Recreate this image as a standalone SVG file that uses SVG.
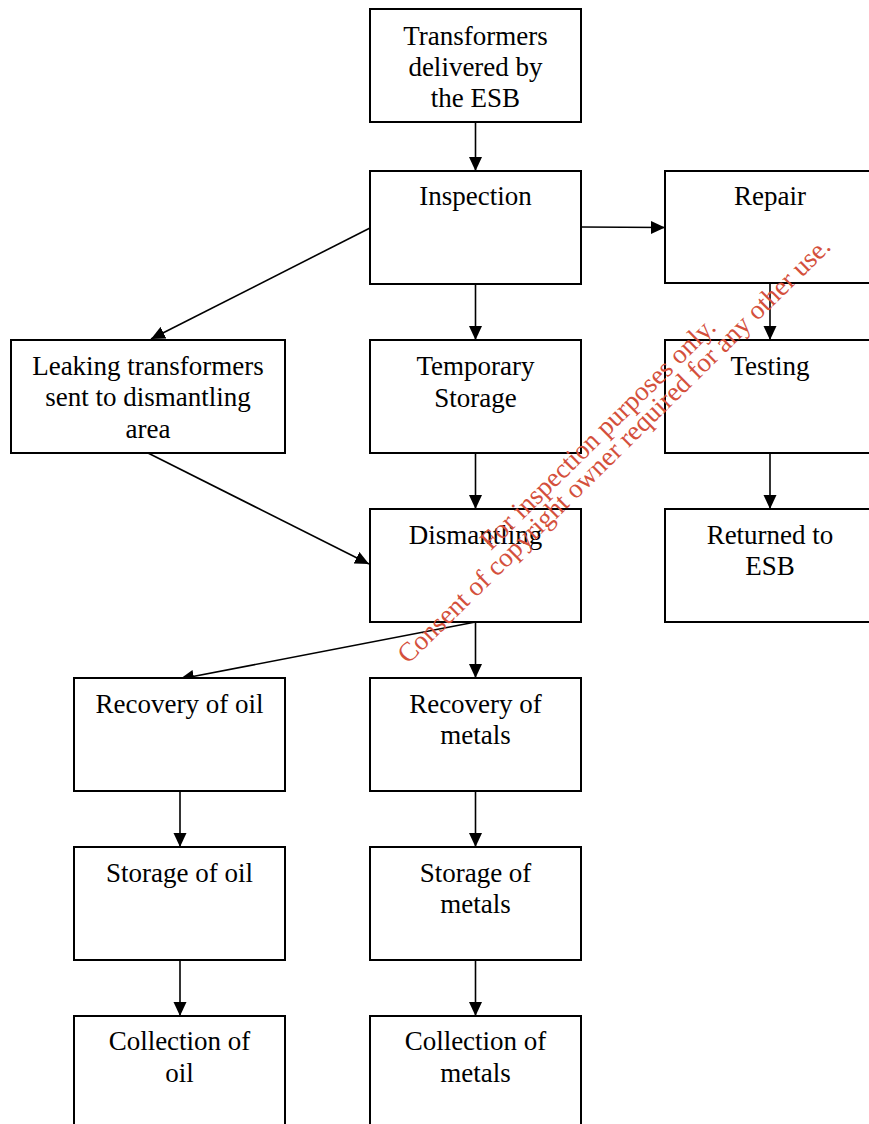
<svg xmlns="http://www.w3.org/2000/svg" width="869" height="1124" viewBox="0 0 869 1124">
<style>
.box{fill:#fff;stroke:#000;stroke-width:2}
.t{font-family:"Liberation Serif","Times New Roman",serif;font-size:27px;fill:#000;text-anchor:middle}
.c{stroke:#000;stroke-width:1.6;fill:none;marker-end:url(#ah)}
.wm{font-family:"Liberation Serif","Times New Roman",serif;font-size:27px;fill:#d4503c;text-anchor:middle}
</style>
<defs>
<marker id="ah" markerUnits="userSpaceOnUse" markerWidth="15" markerHeight="14" refX="14" refY="7" orient="auto">
<path d="M0,0.5 L14,7 L0,13.5 z" fill="#000"/>
</marker>
</defs>
<rect width="869" height="1124" fill="#fff"/>
<g id="connectors">
<line class="c" x1="475.5" y1="122" x2="475.5" y2="171"/>
<line class="c" x1="581" y1="227" x2="665" y2="227.5"/>
<line class="c" x1="370" y1="228" x2="151" y2="339"/>
<line class="c" x1="475.5" y1="284" x2="475.5" y2="340"/>
<line class="c" x1="770" y1="283" x2="770" y2="340"/>
<line class="c" x1="148" y1="453" x2="369" y2="564"/>
<line class="c" x1="475.5" y1="453" x2="475.5" y2="509"/>
<line class="c" x1="770" y1="453" x2="770" y2="509"/>
<line class="c" x1="475.5" y1="622" x2="180" y2="679"/>
<line class="c" x1="475.5" y1="622" x2="475.5" y2="678"/>
<line class="c" x1="180" y1="791" x2="180" y2="847"/>
<line class="c" x1="475.5" y1="791" x2="475.5" y2="847"/>
<line class="c" x1="180" y1="960" x2="180" y2="1016"/>
<line class="c" x1="475.5" y1="960" x2="475.5" y2="1016"/>
</g>
<g id="n-transformers"><rect class="box" x="370" y="9" width="211" height="113"/>
<text class="t" x="475.5" y="45">Transformers</text><text class="t" x="475.5" y="76">delivered by</text><text class="t" x="475.5" y="107">the ESB</text></g>
<g id="n-inspection"><rect class="box" x="370" y="171" width="211" height="113"/>
<text class="t" x="475.5" y="205">Inspection</text></g>
<g id="n-repair"><rect class="box" x="665" y="171" width="211" height="112"/>
<text class="t" x="770" y="205">Repair</text></g>
<g id="n-leaking"><rect class="box" x="11" y="340" width="274" height="113"/>
<text class="t" x="148" y="375">Leaking transformers</text><text class="t" x="148" y="406">sent to dismantling</text><text class="t" x="148" y="438">area</text></g>
<g id="n-temporary"><rect class="box" x="370" y="340" width="211" height="113"/>
<text class="t" x="475.5" y="375">Temporary</text><text class="t" x="475.5" y="407">Storage</text></g>
<g id="n-testing"><rect class="box" x="665" y="340" width="211" height="113"/>
<text class="t" x="770" y="375">Testing</text></g>
<g id="n-dismantling"><rect class="box" x="370" y="509" width="211" height="113"/>
<text class="t" x="475.5" y="544">Dismantling</text></g>
<g id="n-returned"><rect class="box" x="665" y="509" width="211" height="113"/>
<text class="t" x="770" y="544">Returned to</text><text class="t" x="770" y="575">ESB</text></g>
<g id="n-rec-oil"><rect class="box" x="74" y="678" width="211" height="113"/>
<text class="t" x="179.5" y="713">Recovery of oil</text></g>
<g id="n-rec-metals"><rect class="box" x="370" y="678" width="211" height="113"/>
<text class="t" x="475.5" y="713">Recovery of</text><text class="t" x="475.5" y="744">metals</text></g>
<g id="n-stor-oil"><rect class="box" x="74" y="847" width="211" height="113"/>
<text class="t" x="179.5" y="882">Storage of oil</text></g>
<g id="n-stor-metals"><rect class="box" x="370" y="847" width="211" height="113"/>
<text class="t" x="475.5" y="882">Storage of</text><text class="t" x="475.5" y="913">metals</text></g>
<g id="n-col-oil"><rect class="box" x="74" y="1016" width="211" height="120"/>
<text class="t" x="179.5" y="1050">Collection of</text><text class="t" x="179.5" y="1082">oil</text></g>
<g id="n-col-metals"><rect class="box" x="370" y="1016" width="211" height="120"/>
<text class="t" x="475.5" y="1050">Collection of</text><text class="t" x="475.5" y="1082">metals</text></g>
<g id="watermark" transform="translate(604,440) rotate(-44.5)">
<text class="wm" x="0" y="0">For inspection purposes only.</text>
<text class="wm" x="0" y="23">Consent of copyright owner required for any other use.</text>
</g>
</svg>
